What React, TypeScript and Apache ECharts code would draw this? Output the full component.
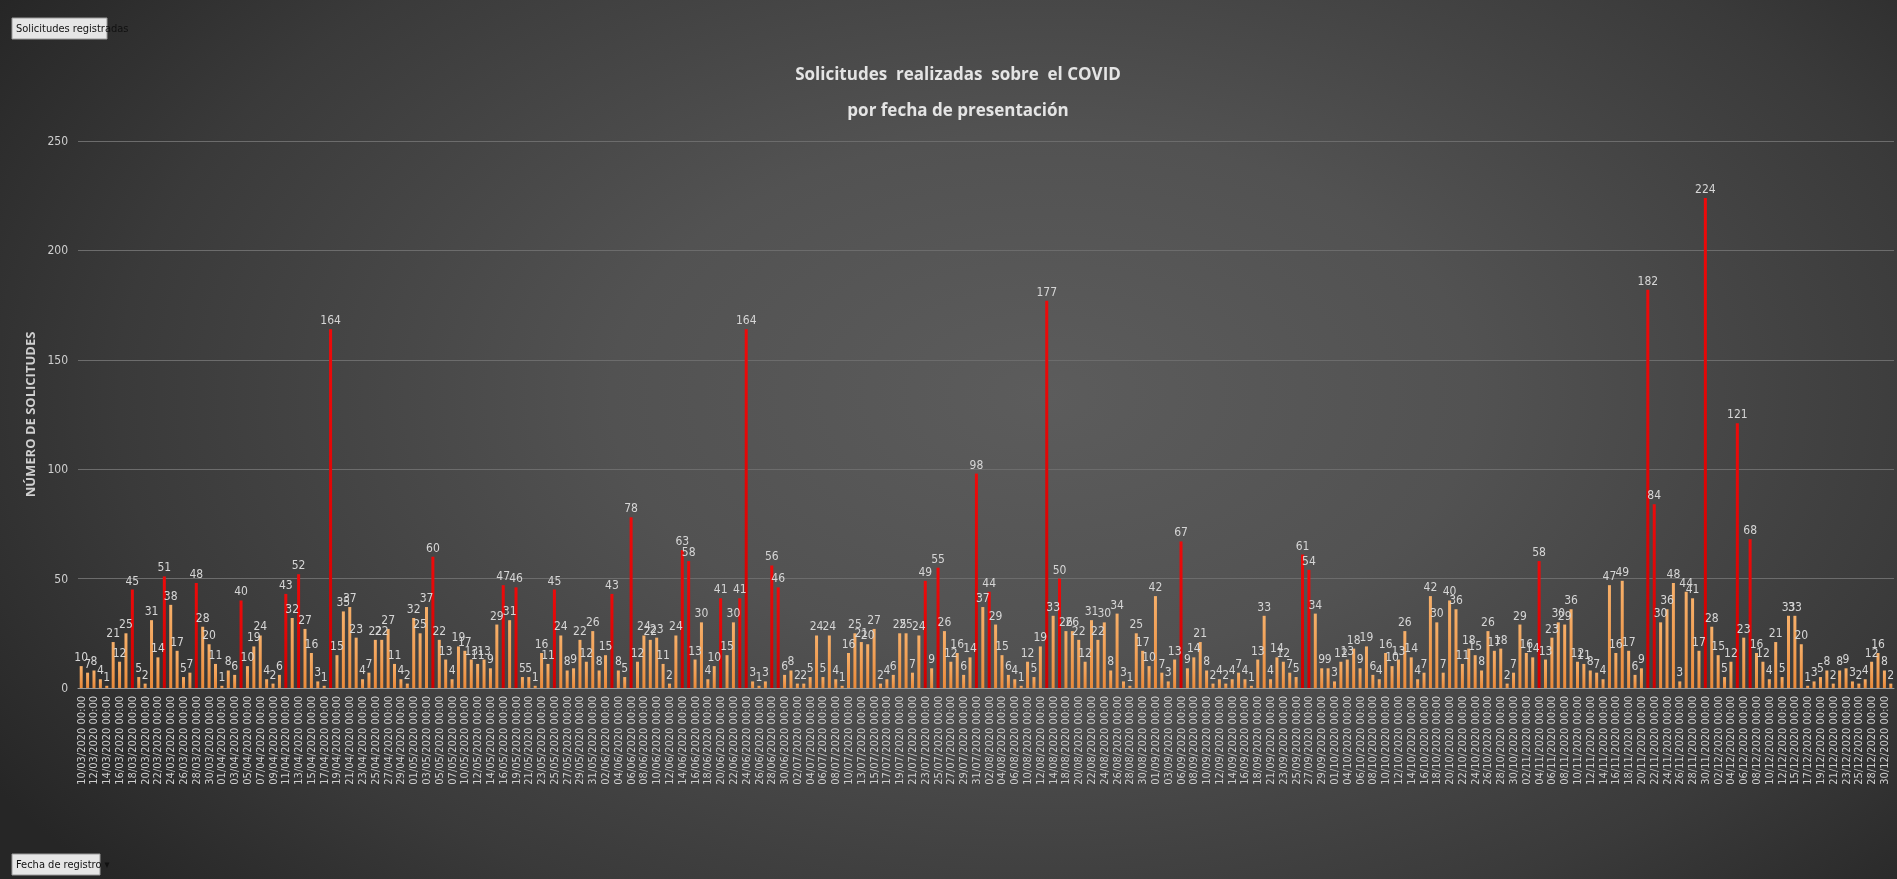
import React, { useEffect, useRef } from "react";
import * as echarts from "echarts";

// Días con registro, por mes (2020)
const marzo = [10,11,12,13,14,15,16,17,18,19,20,21,22,23,24,25,26,27,28,29,30,31];
const abril = [1,2,3,4,5,6,7,8,9,10,11,12,13,14,15,16,17,18,19,20,21,22,23,24,25,26,27,28,29,30];
const mayo = [1,2,3,4,5,6,7,8,10,11,12,13,14,15,16,18,19,20,21,22,23,24,25,26,27,28,29,30,31];
const junio = [1,2,3,4,5,6,7,8,9,10,11,12,13,14,15,16,17,18,19,20,21,22,23,24,25,26,27,28,29,30];
const julio = [1,2,3,4,5,6,7,8,9,10,12,13,14,15,16,17,18,19,20,21,22,23,24,25,26,27,28,29,30,31];
const agosto = [1,2,3,4,5,6,7,10,11,12,13,14,17,18,19,20,21,22,23,24,25,26,27,28,29,30,31];
const septiembre = [1,2,3,4,6,7,8,9,10,11,12,13,14,15,16,17,18,20,21,22,23,24,25,26,27,28,29,30];
const octubre = [1,2,4,5,6,7,8,9,10,11,12,13,14,15,16,17,18,19,20,21,22,23,24,25,26,27,28,29,30];
const noviembre = [1,2,3,4,5,6,7,8,9,10,11,12,13,14,15,16,17,18,19,20,21,22,23,24,25,26,27,28,29,30];
const diciembre = [1,2,3,4,5,6,7,8,9,10,11,12,14,15,16,17,18,19,20,21,22,23,24,25,27,28,29,30,31];

const meses: [string, number[]][] = [
  ["03", marzo], ["04", abril], ["05", mayo], ["06", junio], ["07", julio],
  ["08", agosto], ["09", septiembre], ["10", octubre], ["11", noviembre], ["12", diciembre],
];

// Solicitudes registradas por día
const solicitudes = [
  10,7,8,4,1,21,12,25,45,5,2,31,14,51,38,17,5,7,48,28,20,11,1,8,6,40,10,19,24,4,2,6,43,32,52,27,16,
  3,1,164,15,35,37,23,4,7,22,22,27,11,4,2,32,25,37,60,22,13,4,19,17,13,11,13,9,29,47,31,46,5,5,1,16,11,45,24,
  8,9,22,12,26,8,15,43,8,5,78,12,24,22,23,11,2,24,63,58,13,30,4,10,41,15,30,41,164,3,1,3,56,46,6,8,2,2,5,
  24,5,24,4,1,16,25,21,20,27,2,4,6,25,25,7,24,49,9,55,26,12,16,6,14,98,37,44,29,15,6,4,1,12,5,19,177,33,50,
  26,26,22,12,31,22,30,8,34,3,1,25,17,10,42,7,3,13,67,9,14,21,8,2,4,2,4,7,4,1,13,33,4,14,12,7,5,61,54,
  34,9,9,3,12,13,18,9,19,6,4,16,10,13,26,14,4,7,42,30,7,40,36,11,18,15,8,26,17,18,2,7,29,16,14,58,13,23,30,29,
  36,12,11,8,7,4,47,16,49,17,6,9,182,84,30,36,48,3,44,41,17,224,28,15,5,12,121,23,68,16,12,4,21,5,33,33,20,1,3,5,8,2,8,9,3,2,4,12,16,8,2,
];

// Posiciones de las barras destacadas en rojo
const destacadas = [8,13,18,25,32,34,39,55,66,68,74,83,86,94,95,100,103,104,108,109,132,134,140,142,151,153,172,191,192,228,245,246,254,259,261];

const yTicks = [0, 50, 100, 150, 200, 250];

const FONT = "'Liberation Sans Narrow', 'DejaVu Sans Condensed', 'Open Sans', sans-serif";

export default function App() {
  const ref = useRef<HTMLDivElement>(null);

  useEffect(() => {
    if (!ref.current) return;
    const chart = echarts.init(ref.current, null, { renderer: "svg" });
    const fechas: string[] = [];
    meses.forEach(([m, dias]) => {
      dias.forEach((d) => fechas.push(`${String(d).padStart(2, "0")}/${m}/2020 00:00`));
    });
    const rojo = new Set(destacadas);
    const naranja = new echarts.graphic.LinearGradient(0, 0, 0, 1, [
      { offset: 0, color: "#f7b06a" },
      { offset: 1, color: "#ea8a3a" },
    ]);
    const rojoG = new echarts.graphic.LinearGradient(0, 0, 0, 1, [
      { offset: 0, color: "#ee0a0a" },
      { offset: 1, color: "#d00000" },
    ]);

    const option: any = {
      animation: false,
      backgroundColor: "transparent",
      grid: { left: 78, right: 3, top: 141, bottom: 191, containLabel: false },
      xAxis: {
        type: "category",
        data: fechas.slice(0, solicitudes.length),
        axisLine: { show: true, lineStyle: { color: "#9a9a9a", width: 1 } },
        axisTick: { show: false },
        axisLabel: {
          interval: 1,
          rotate: 90,
          color: "#cfcfcf",
          fontSize: 11,
          margin: 8,
          fontFamily: FONT,
        },
      },
      yAxis: {
        type: "value",
        min: yTicks[0],
        max: yTicks[yTicks.length - 1],
        interval: 50,
        name: "NÚMERO DE SOLICITUDES",
        nameLocation: "middle",
        nameGap: 30,
        nameTextStyle: { color: "#d0d0d0", fontSize: 13, fontWeight: "bold", fontFamily: "'Open Sans', sans-serif" },
        axisLine: { show: false },
        axisTick: { show: false },
        axisLabel: { color: "#cfcfcf", fontSize: 12, margin: 10, fontFamily: FONT },
        splitLine: { lineStyle: { color: "#6c6c6c", width: 1 } },
      },
      series: [
        {
          type: "bar",
          barWidth: 3,
          data: solicitudes.map((v, i) => ({
            value: v,
            itemStyle: { color: rojo.has(i) ? rojoG : naranja },
          })),
          label: {
            show: true,
            position: "top",
            distance: 3,
            color: "#d6d6d6",
            fontSize: 12,
            fontFamily: FONT,
          },
        },
      ],
      graphic: [
        {
          type: "text",
          x: 958,
          y: 73,
          style: {
            text: "Solicitudes  realizadas  sobre  el COVID",
            fill: "#e4e4e4",
            font: "bold 17px 'Open Sans', sans-serif",
            textAlign: "center",
            textVerticalAlign: "middle",
          },
        },
        {
          type: "text",
          x: 958,
          y: 109,
          style: {
            text: "por fecha de presentación",
            fill: "#e4e4e4",
            font: "bold 17px 'Open Sans', sans-serif",
            textAlign: "center",
            textVerticalAlign: "middle",
          },
        },
        {
          type: "group",
          x: 12,
          y: 18,
          children: [
            { type: "rect", shape: { x: 0, y: 0, width: 95, height: 21 }, style: { fill: "#e6e6e6", stroke: "#9a9a9a", lineWidth: 1 } },
            { type: "text", x: 4, y: 10.5, style: { text: "Solicitudes registradas", fill: "#111", font: `11px ${FONT}`, textVerticalAlign: "middle" } },
          ],
        },
        {
          type: "group",
          x: 12,
          y: 854,
          children: [
            { type: "rect", shape: { x: 0, y: 0, width: 88, height: 21 }, style: { fill: "#e6e6e6", stroke: "#9a9a9a", lineWidth: 1 } },
            { type: "text", x: 4, y: 10.5, style: { text: "Fecha de registro ▾", fill: "#111", font: `11px ${FONT}`, textVerticalAlign: "middle" } },
          ],
        },
      ],
    };
    chart.setOption(option);
    return () => chart.dispose();
  }, []);

  return (
    <div
      style={{
        position: "fixed",
        left: 0,
        top: 0,
        width: 1897,
        height: 879,
        background: "radial-gradient(ellipse 65% 85% at 55% 45%, #5c5c5c 0%, #525252 35%, #3a3a3a 75%, #262626 100%)",
      }}
    >
      <div ref={ref} style={{ width: 1897, height: 879 }} />
    </div>
  );
}
